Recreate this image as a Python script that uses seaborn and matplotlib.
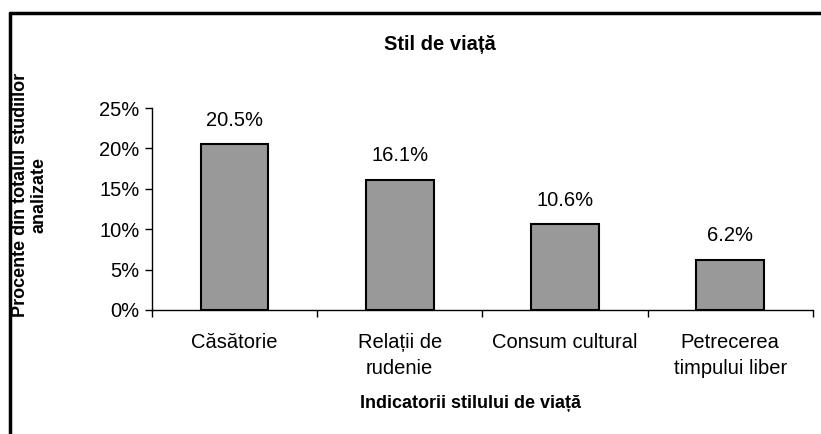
import seaborn as sns
import matplotlib.pyplot as plt
import pandas as pd
from matplotlib.lines import Line2D
from matplotlib.ticker import FixedLocator, FuncFormatter

categories = ['Căsătorie', 'Relații de\nrudenie', 'Consum cultural', 'Petrecerea\ntimpului liber']
values = [20.5, 16.1, 10.6, 6.2]
y_ticks = [0, 5, 10, 15, 20, 25]

sns.set_style('white')
plt.rcParams['font.family'] = ['Liberation Sans', 'DejaVu Sans']
plt.rcParams['text.color'] = 'black'
plt.rcParams['xtick.color'] = 'black'
plt.rcParams['ytick.color'] = 'black'

df = pd.DataFrame({'cat': categories, 'val': values})

fig = plt.figure(figsize=(8.21, 4.34), dpi=100)
ax = fig.add_axes([0.185, 0.286, 0.805, 0.465])

sns.barplot(data=df, x='cat', y='val', color='#999999', saturation=1,
            width=0.41, edgecolor='black', linewidth=1.5, ax=ax)

for i, v in enumerate(values):
    ax.annotate(f'{v:.1f}%', (i, v), xytext=(0, 10.5), textcoords='offset points',
                ha='center', va='bottom', fontsize=14.5)

ax.set_ylim(0, 25)
ax.set_xlim(-0.5, len(categories) - 0.5)
ax.set_yticks(y_ticks)
ax.yaxis.set_major_formatter(FuncFormatter(lambda v, p: f'{v:.0f}%'))
ax.tick_params(axis='y', direction='out', length=5, width=1,
               labelsize=14.5, left=True, pad=4)
ax.tick_params(axis='x', which='major', length=0, labelsize=14.5, pad=17)
for lbl in ax.get_xticklabels():
    lbl.set_linespacing(1.45)
ax.xaxis.set_minor_locator(FixedLocator([i - 0.5 for i in range(len(categories) + 1)]))
ax.tick_params(axis='x', which='minor', direction='out', length=5, width=1,
               bottom=True)

for s in ['top', 'right']:
    ax.spines[s].set_visible(False)
for s in ['left', 'bottom']:
    ax.spines[s].set_color('black')
    ax.spines[s].set_linewidth(1)

ax.set_xlabel('')
ax.set_ylabel('')

fig.text(440 / 821, 1 - 45 / 434, 'Stil de viață', ha='center', va='center',
         fontsize=14.5, fontweight='bold')
fig.text(470 / 821, 1 - 404 / 434, 'Indicatorii stilului de viață', ha='center',
         va='center', fontsize=13, fontweight='bold')
fig.text(30 / 821, 1 - 195 / 434, 'Procente din totalul studiilor\nanalizate',
         ha='center', va='center', rotation=90, fontsize=13,
         fontweight='bold', linespacing=1.1)

# outer frame (top and left edges visible)
fig.add_artist(Line2D([10 / 821, 1.0], [1 - 13 / 434, 1 - 13 / 434],
                      transform=fig.transFigure, color='black', linewidth=2.5))
fig.add_artist(Line2D([10 / 821, 10 / 821], [0.0, 1 - 13 / 434],
                      transform=fig.transFigure, color='black', linewidth=2.5))

fig.savefig('out.png', dpi=100)
